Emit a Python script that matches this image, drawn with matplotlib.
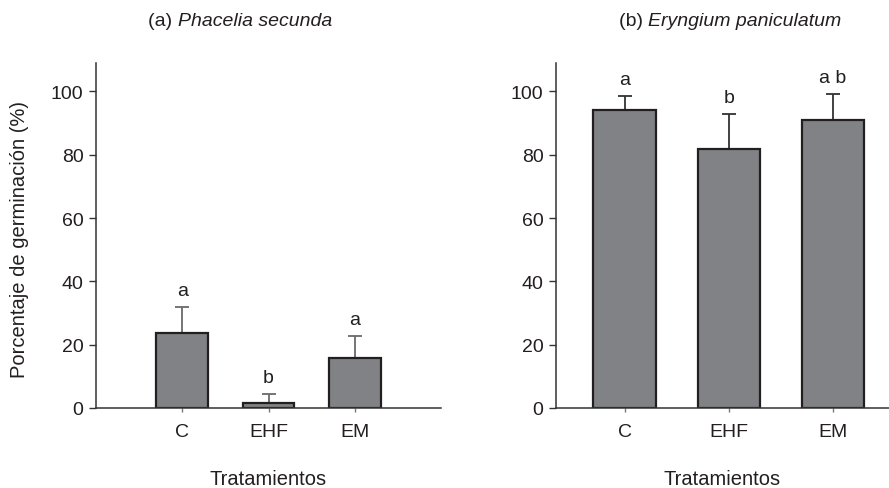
import matplotlib
matplotlib.use("Agg")
import matplotlib.pyplot as plt

plt.rcParams['font.family'] = ['Liberation Sans', 'DejaVu Sans']

categories = ["C", "EHF", "EM"]
yticks = [0, 20, 40, 60, 80, 100]

# (a) Phacelia secunda
a_means = [23.7, 1.7, 15.8]
a_err = [8.2, 2.7, 7.0]
a_letters = ["a", "b", "a"]

# (b) Eryngium paniculatum
b_means = [94.1, 81.7, 90.9]
b_err = [4.5, 11.1, 8.2]
b_letters = ["a", "b", "a b"]

W, H = 889, 489
fig = plt.figure(figsize=(W / 100, H / 100), dpi=100)

def ax_at(x0, x1, y0, y1):
    return fig.add_axes([x0 / W, 1 - y1 / H, (x1 - x0) / W, (y1 - y0) / H])

bar_color = "#808285"
edge_color = "#231f20"
spine_color = "#333333"
txt = "#231f20"
fs = 14

def draw(ax, means, err, letters, xlim, ecolor):
    x = list(range(len(categories)))
    ax.bar(x, means, width=0.6, color=bar_color, edgecolor=edge_color,
           linewidth=1.6, zorder=2)
    ax.errorbar(x, means, yerr=[[0] * len(err), err], fmt="none",
                ecolor=ecolor, elinewidth=1.3, capsize=5, capthick=1.3, zorder=1)
    for xi, m, e, t in zip(x, means, err, letters):
        ax.annotate(t, (xi, m + e), xytext=(0, 8.6), textcoords="offset points",
                    ha="center", va="baseline", fontsize=fs, color=txt)
    ax.set_xlim(*xlim)
    ax.set_ylim(0, 109)
    ax.set_yticks(yticks)
    ax.set_xticks(x)
    ax.set_xticklabels(categories, fontsize=fs, color=txt)
    ax.tick_params(axis="y", labelsize=fs, length=5, width=1, color=spine_color,
                   pad=4, labelcolor=txt)
    ax.tick_params(axis="x", length=3, width=1, color="#777777", pad=8)
    for s in ["top", "right"]:
        ax.spines[s].set_visible(False)
    for s in ["left", "bottom"]:
        ax.spines[s].set_color(spine_color)
        ax.spines[s].set_linewidth(1.1)

ax1 = ax_at(96, 441, 64, 409)
draw(ax1, a_means, a_err, a_letters, (-1, 3), "#6a6a6a")
ax2 = ax_at(556, 889, 64, 409)
draw(ax2, b_means, b_err, b_letters, (-0.66, 2.54), "#333333")

fig.text(20 / W, 1 - 240 / H, "Porcentaje de germinación (%)", rotation=90,
         fontsize=14.5, color=txt, ha="center", va="center")
fig.text(268.5 / W, 1 - 480 / H, "Tratamientos", fontsize=14.5, color=txt,
         ha="center", va="center")
fig.text(722.5 / W, 1 - 480 / H, "Tratamientos", fontsize=14.5, color=txt,
         ha="center", va="center")

def two_part_title(xc, prefix, species):
    r = fig.canvas.get_renderer()
    p = fig.text(0, 0, prefix, fontsize=14, color=txt, va="center")
    s = fig.text(0, 0, species, fontsize=14, style="italic", color=txt, va="center")
    wp = p.get_window_extent(r).width
    ws = s.get_window_extent(r).width
    left = xc - (wp + ws) / 2
    p.set_position((left / W, 1 - 22 / H))
    s.set_position(((left + wp) / W, 1 - 22 / H))

two_part_title(240, "(a) ", "Phacelia secunda")
two_part_title(730, "(b) ", "Eryngium paniculatum")

fig.savefig("out.png", dpi=100)
